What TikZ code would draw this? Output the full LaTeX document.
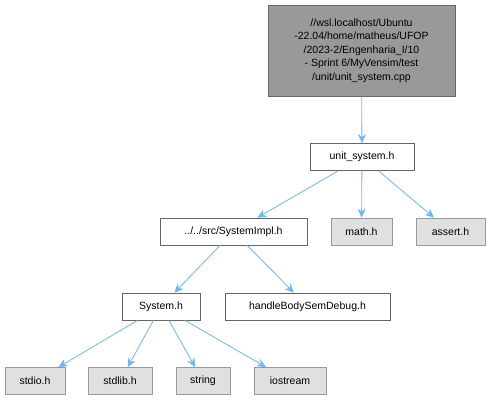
\documentclass[tikz,border=0pt]{standalone}
\usepackage{fontspec}
\setmainfont{Liberation Sans}
\usetikzlibrary{arrows.meta, positioning}
\definecolor{edgeblue}{HTML}{63B8FF}
\definecolor{rootfill}{HTML}{999999}
\definecolor{sysfill}{HTML}{E0E0E0}
\definecolor{darkborder}{HTML}{666666}
\definecolor{lightborder}{HTML}{999999}

\begin{document}
\begin{tikzpicture}[
    x=1pt, y=-1pt, >={Stealth[length=9pt, width=8pt]},
    font=\fontsize{10.5}{13.5}\selectfont,
    file/.style={draw=darkborder, fill=white, line width=0.8pt,
                 minimum height=27pt, inner xsep=6pt, inner ysep=0pt},
    sysfile/.style={draw=lightborder, fill=sysfill, line width=0.8pt,
                    minimum height=27pt, inner xsep=6pt, inner ysep=0pt},
    rootfile/.style={draw=darkborder, fill=rootfill, line width=0.8pt,
                     align=center, minimum width=187pt, minimum height=91pt},
    dep/.style={->, edgeblue, line width=0.8pt}
  ]
  \useasboundingbox (0,0) rectangle (491,400);

  % Root
  \node[rootfile] (root) at (361.5, 50.5)
    {//wsl.localhost/Ubuntu\\-22.04/home/matheus/UFOP\\/2023-2/Engenharia\_I/10\\ - Sprint 6/MyVensim/test\\/unit/unit\_system.cpp};

  % Level 1
  \node[file, minimum width=104pt] (unit) at (362, 157) {unit\_system.h};

  % Level 2
  \node[file, minimum width=147pt] (impl) at (233.5, 231.5) {../../src/SystemImpl.h};
  \node[sysfile, minimum width=61pt] (math) at (361.5, 231.5) {math.h};
  \node[sysfile, minimum width=69pt] (assert) at (450.5, 231.5) {assert.h};

  % Level 3
  \node[file, minimum width=78pt] (system) at (161, 306.5) {System.h};
  \node[file, minimum width=165pt] (handle) at (307.5, 306.5) {handleBodySemDebug.h};

  % Level 4
  \node[sysfile, minimum width=60pt] (stdio) at (35, 381) {stdio.h};
  \node[sysfile, minimum width=64pt] (stdlib) at (120, 381) {stdlib.h};
  \node[sysfile, minimum width=54pt] (string) at (203, 381) {string};
  \node[sysfile, minimum width=72pt] (iostream) at (290, 381) {iostream};

  \draw[dep] (root) -- (unit);
  \foreach \t in {impl,math,assert}
    \draw[dep] (unit) -- (\t);
  \foreach \t in {system,handle}
    \draw[dep] (impl) -- (\t);
  \foreach \t in {stdio,stdlib,string,iostream}
    \draw[dep] (system) -- (\t);
\end{tikzpicture}
\end{document}
